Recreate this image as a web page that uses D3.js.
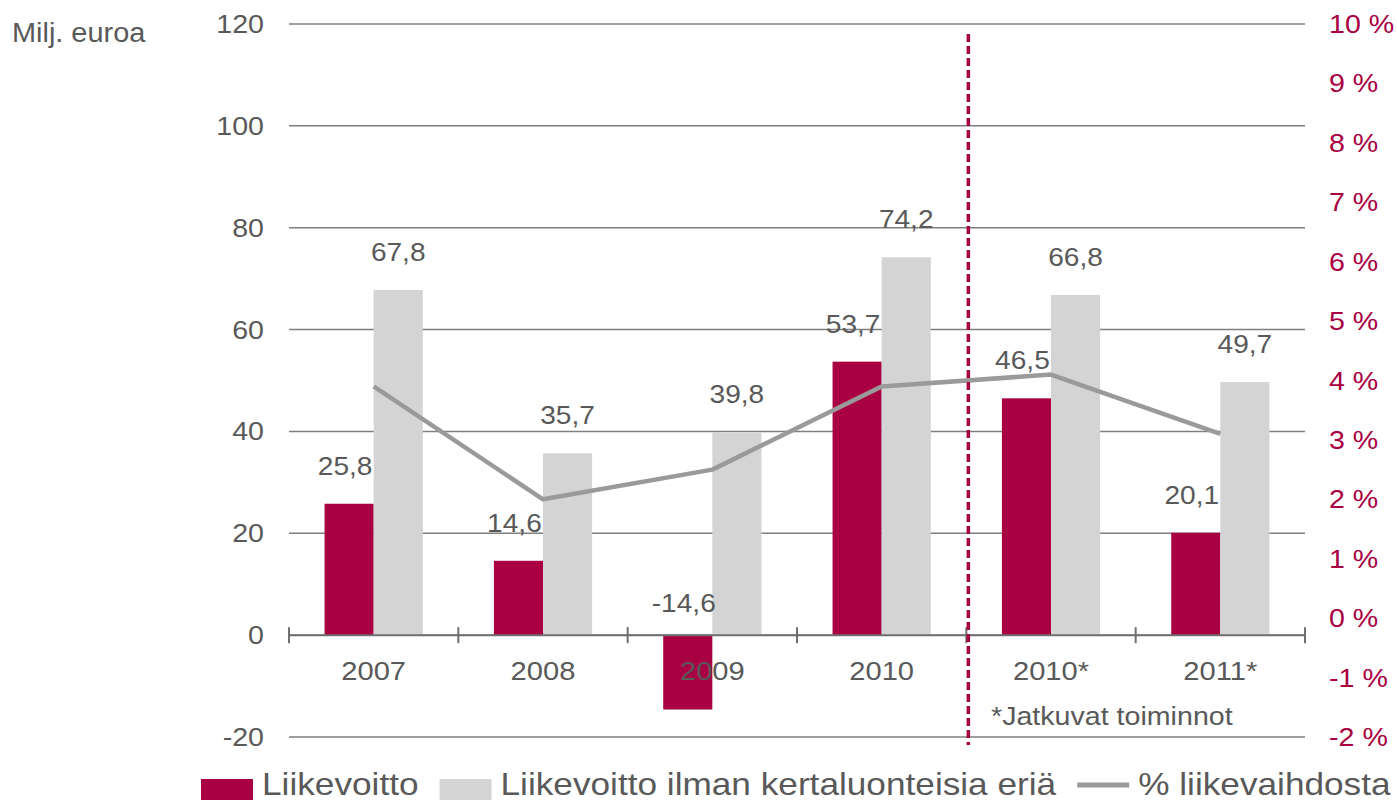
<!DOCTYPE html>
<html>
<head>
<meta charset="utf-8">
<script src="https://cdn.jsdelivr.net/npm/d3@7"></script>
<style>
  body { margin: 0; background: #fff; }
  text { font-family: "Liberation Sans", Arial, sans-serif; }
</style>
</head>
<body>
<svg id="chart" width="1397" height="801"></svg>
<script>
// data
var categories = ["2007", "2008", "2009", "2010", "2010*", "2011*"];
var liikevoitto = [25.8, 14.6, -14.6, 53.7, 46.5, 20.1];
var ilmanKertaluonteisia = [67.8, 35.7, 39.8, 74.2, 66.8, 49.7];
var pctLiikevaihdosta = [3.9, 2.0, 2.5, 3.9, 4.1, 3.1];
var leftTicks = [-20, 0, 20, 40, 60, 80, 100, 120];
var rightTicks = [-2, -1, 0, 1, 2, 3, 4, 5, 6, 7, 8, 9, 10];
var legendItems = [
    {type: "rect", color: "#a80042", label: "Liikevoitto"},
    {type: "rect", color: "#d5d4d5", label: "Liikevoitto ilman kertaluonteisia eriä"},
    {type: "line", color: "#9a9a9a", label: "% liikevaihdosta"}
];

var RED = "#a80042", GREY = "#d5d4d5", LINE = "#9a9a9a", TXT = "#595959";
var svg = d3.select("#chart");

var x0 = 289, x1 = 1305, yTop = 24, yBot = 737;

var x = d3.scaleBand().domain(categories).range([x0, x1]).padding(0);
var bw = x.bandwidth();
var barW = bw * 0.29;
var yL = d3.scaleLinear().domain([-20, 120]).range([yBot, yTop]);
var yR = d3.scaleLinear().domain([-2, 10]).range([yBot, yTop]);

// the original's text is a bit wider than Arial, stretch it horizontally
function stretch(sel, k) {
    sel.each(function () {
        var w = this.getComputedTextLength();
        d3.select(this).attr("textLength", w * k).attr("lengthAdjust", "spacingAndGlyphs");
    });
}

// gridlines
svg.append("g").selectAll("line")
    .data(leftTicks)
    .join("line")
    .attr("x1", x0).attr("x2", x1)
    .attr("y1", function (d) { return yL(d); })
    .attr("y2", function (d) { return yL(d); })
    .attr("stroke", "#7f7f7f").attr("stroke-width", 1.5);

// left tick labels
svg.append("g").selectAll("text")
    .data(leftTicks)
    .join("text")
    .attr("x", 264)
    .attr("y", function (d) { return yL(d) + 9; })
    .attr("text-anchor", "end")
    .attr("font-size", 26)
    .attr("fill", TXT)
    .text(function (d) { return d; })
    .call(stretch, 1.1);

// right tick labels
svg.append("g").selectAll("text")
    .data(rightTicks)
    .join("text")
    .attr("x", 1329)
    .attr("y", function (d) { return yR(d) + 9; })
    .attr("font-size", 26)
    .attr("fill", RED)
    .text(function (d) { return d + " %"; })
    .call(stretch, 1.1);

svg.append("text")
    .attr("x", 12).attr("y", 42)
    .attr("font-size", 27).attr("fill", TXT)
    .text("Milj. euroa")
    .call(stretch, 1.07);

// bars
var bars = svg.append("g");
bars.selectAll("rect.red")
    .data(liikevoitto)
    .join("rect")
    .attr("class", "red")
    .attr("x", function (d, i) { return x(categories[i]) + bw / 2 - barW; })
    .attr("width", barW)
    .attr("y", function (d) { return yL(Math.max(d, 0)); })
    .attr("height", function (d) { return Math.abs(yL(d) - yL(0)); })
    .attr("fill", RED);

bars.selectAll("rect.grey")
    .data(ilmanKertaluonteisia)
    .join("rect")
    .attr("class", "grey")
    .attr("x", function (d, i) { return x(categories[i]) + bw / 2; })
    .attr("width", barW)
    .attr("y", function (d) { return yL(Math.max(d, 0)); })
    .attr("height", function (d) { return Math.abs(yL(d) - yL(0)); })
    .attr("fill", GREY);

// x axis line and ticks
var y0 = yL(0);
svg.append("line")
    .attr("x1", x0).attr("x2", x1).attr("y1", y0).attr("y2", y0)
    .attr("stroke", "#6f6f6f").attr("stroke-width", 2);
svg.append("g").selectAll("line")
    .data(d3.range(categories.length + 1))
    .join("line")
    .attr("x1", function (i) { return x0 + i * bw; })
    .attr("x2", function (i) { return x0 + i * bw; })
    .attr("y1", y0 - 8).attr("y2", y0 + 8)
    .attr("stroke", "#6f6f6f").attr("stroke-width", 2);

// category labels
svg.append("g").selectAll("text")
    .data(categories)
    .join("text")
    .attr("x", function (d) { return x(d) + bw / 2; })
    .attr("y", 680)
    .attr("text-anchor", "middle")
    .attr("font-size", 26)
    .attr("fill", TXT)
    .text(function (d) { return d; })
    .call(stretch, 1.12);

// value labels
function fmt(v) { return String(v).replace(".", ","); }
svg.append("g").selectAll("text")
    .data(liikevoitto)
    .join("text")
    .attr("x", function (d, i) { return x(categories[i]) + bw / 2 - barW / 2 - 4; })
    .attr("y", function (d) { return d < 0 ? y0 - 23 : yL(d) - 29; })
    .attr("text-anchor", "middle")
    .attr("font-size", 26).attr("fill", TXT)
    .text(fmt)
    .call(stretch, 1.08);
svg.append("g").selectAll("text")
    .data(ilmanKertaluonteisia)
    .join("text")
    .attr("x", function (d, i) { return x(categories[i]) + bw / 2 + barW / 2; })
    .attr("y", function (d) { return yL(d) - 29; })
    .attr("text-anchor", "middle")
    .attr("font-size", 26).attr("fill", TXT)
    .text(fmt)
    .call(stretch, 1.08);

// percentage line
var line = d3.line()
    .x(function (d, i) { return x(categories[i]) + bw / 2; })
    .y(function (d) { return yR(d); });
svg.append("path")
    .datum(pctLiikevaihdosta)
    .attr("d", line)
    .attr("fill", "none")
    .attr("stroke", LINE)
    .attr("stroke-width", 4.5)
    .attr("stroke-linejoin", "round");

// dashed divider between reported and continuing operations
var xDiv = x0 + 4 * bw + 2;
svg.append("line")
    .attr("x1", xDiv).attr("x2", xDiv)
    .attr("y1", 34).attr("y2", 745)
    .attr("stroke", RED).attr("stroke-width", 3.5)
    .attr("stroke-dasharray", "8,4");

svg.append("text")
    .attr("x", 991).attr("y", 725)
    .attr("font-size", 26).attr("fill", TXT)
    .text("*Jatkuvat toiminnot")
    .call(stretch, 1.1);

// legend
var lg = svg.append("g");
var lx = 201;
legendItems.forEach(function (item) {
    if (item.type === "rect") {
        lg.append("rect").attr("x", lx).attr("y", 779).attr("width", 52).attr("height", 21)
            .attr("fill", item.color);
    } else {
        lg.append("line").attr("x1", lx).attr("x2", lx + 52).attr("y1", 785).attr("y2", 785)
            .attr("stroke", item.color).attr("stroke-width", 5);
    }
    var t = lg.append("text")
        .attr("x", lx + 61).attr("y", 795)
        .attr("font-size", 32).attr("fill", TXT)
        .text(item.label);
    var w = t.node().getComputedTextLength() * 1.1;
    t.attr("textLength", w).attr("lengthAdjust", "spacingAndGlyphs");
    lx += 61 + w + 21;
});
</script>
</body>
</html>
